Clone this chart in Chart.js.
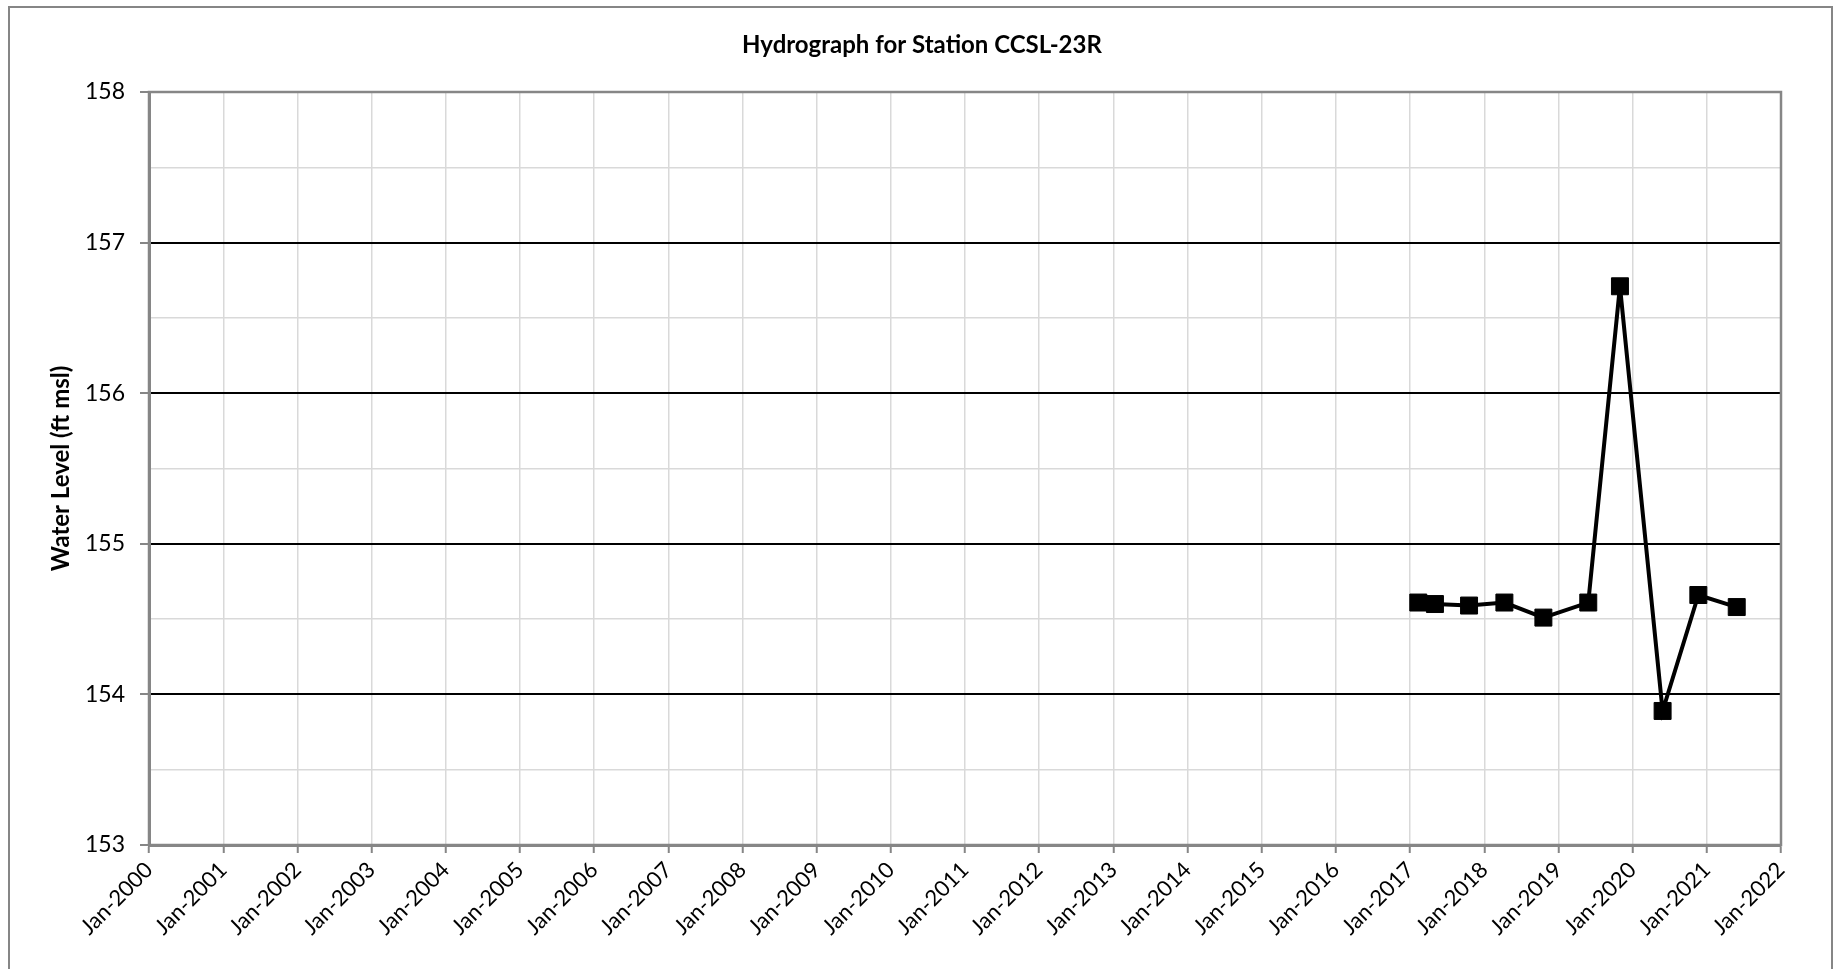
<!DOCTYPE html>
<html>
<head>
<meta charset="utf-8">
<script src="https://cdn.jsdelivr.net/npm/chart.js@4/dist/chart.umd.min.js"></script>
<style>
  html, body { margin: 0; padding: 0; background: #fff; overflow: hidden; }
  #wrap { position: relative; width: 1837px; height: 969px; }
</style>
</head>
<body>
<div id="wrap"><canvas id="hydro" width="1837" height="969"></canvas></div>
<script>
var sampleDates = ['2017-02-10', '2017-05-03', '2017-10-18', '2018-04-10', '2018-10-19',
                   '2019-05-28', '2019-10-31', '2020-05-28', '2020-11-20', '2021-05-28'];
var waterLevels = [154.61, 154.60, 154.59, 154.61, 154.51,
                   154.61, 156.71, 153.89, 154.66, 154.58];
var tickYears = [2000, 2001, 2002, 2003, 2004, 2005, 2006, 2007, 2008, 2009, 2010,
                 2011, 2012, 2013, 2014, 2015, 2016, 2017, 2018, 2019, 2020, 2021, 2022];
var yMin = 153, yMax = 158;
var chartTitle = 'Hydrograph for Station CCSL-23R';

var AXIS_GREY = '#868686';
var GRID_GREY = '#d9d9d9';
var FONT = 'Lato, "Open Sans", sans-serif';

function toTime(s) {
  var p = s.split('-');
  return Date.UTC(+p[0], +p[1] - 1, +p[2]);
}

var points = sampleDates.map(function(d, i) {
  return { x: toTime(d), y: waterLevels[i] };
});

// outer frame, plot outline and the (off-centre) title
var framePlugin = {
  id: 'frame',
  beforeDraw: function(c) {
    var ctx = c.ctx;
    ctx.save();
    ctx.fillStyle = '#fff';
    ctx.fillRect(0, 0, c.width, c.height);
    ctx.strokeStyle = AXIS_GREY;
    ctx.lineWidth = 2;
    ctx.strokeRect(9, 7, 1823, 1000);
    ctx.fillStyle = '#000';
    ctx.font = 'bold 24px ' + FONT;
    ctx.textAlign = 'center';
    ctx.textBaseline = 'middle';
    ctx.fillText(chartTitle, 922, 45);
    ctx.restore();
  },
  beforeDatasetsDraw: function(c) {
    var a = c.chartArea, ctx = c.ctx;
    ctx.save();
    ctx.strokeStyle = AXIS_GREY;
    ctx.lineWidth = 2.5;
    ctx.strokeRect(a.left, a.top, a.right - a.left, a.bottom - a.top);
    ctx.restore();
  }
};

var chart = new Chart(document.getElementById('hydro').getContext('2d'), {
  type: 'line',
  data: {
    datasets: [{
      data: points,
      borderColor: '#000',
      backgroundColor: '#000',
      borderWidth: 4,
      tension: 0,
      pointStyle: 'rect',
      pointRadius: 12,
      pointHoverRadius: 12,
      pointBorderWidth: 1,
      pointBackgroundColor: '#000',
      pointBorderColor: '#000'
    }]
  },
  options: {
    responsive: false,
    animation: false,
    devicePixelRatio: 1,
    layout: { padding: { left: 0, right: 56, top: 92, bottom: 0 } },
    plugins: {
      legend: { display: false },
      tooltip: { enabled: false },
      title: { display: false }
    },
    scales: {
      x: {
        type: 'linear',
        min: toTime('2000-01-01'),
        max: toTime('2022-01-01'),
        afterBuildTicks: function(scale) {
          scale.ticks = tickYears.map(function(y) { return { value: Date.UTC(y, 0, 1) }; });
        },
        afterFit: function(scale) { scale.height = 124; },
        ticks: {
          autoSkip: false,
          minRotation: 45,
          maxRotation: 45,
          padding: 4,
          color: '#000',
          font: { family: FONT, size: 22 },
          callback: function(v) { return 'Jan-' + new Date(v).getUTCFullYear(); }
        },
        grid: {
          color: GRID_GREY,
          lineWidth: 1.5,
          tickLength: 8,
          tickColor: AXIS_GREY,
          tickWidth: 2
        },
        border: { color: AXIS_GREY, width: 3 }
      },
      y: {
        min: yMin,
        max: yMax,
        afterFit: function(scale) { scale.width = 149; },
        ticks: {
          stepSize: 0.5,
          padding: 15,
          color: '#000',
          font: { family: FONT, size: 23 },
          callback: function(v) { return Number.isInteger(v) ? v : ''; }
        },
        grid: {
          color: function(ctx) {
            var v = ctx.tick ? ctx.tick.value : 0;
            if (v === yMin || v === yMax) return AXIS_GREY;
            return Number.isInteger(v) ? '#000' : GRID_GREY;
          },
          lineWidth: function(ctx) {
            var v = ctx.tick ? ctx.tick.value : 0;
            return Number.isInteger(v) ? 2 : 1.5;
          },
          tickLength: 9,
          tickColor: function(ctx) {
            var v = ctx.tick ? ctx.tick.value : 0;
            return Number.isInteger(v) ? AXIS_GREY : 'rgba(0,0,0,0)';
          },
          tickWidth: 2
        },
        border: { color: AXIS_GREY, width: 3 },
        title: {
          display: true,
          text: 'Water Level (ft msl)',
          color: '#000',
          font: { family: FONT, size: 24, weight: 'bold' },
          padding: { top: 47, bottom: 0 }
        }
      }
    }
  },
  plugins: [framePlugin]
});
</script>
</body>
</html>
